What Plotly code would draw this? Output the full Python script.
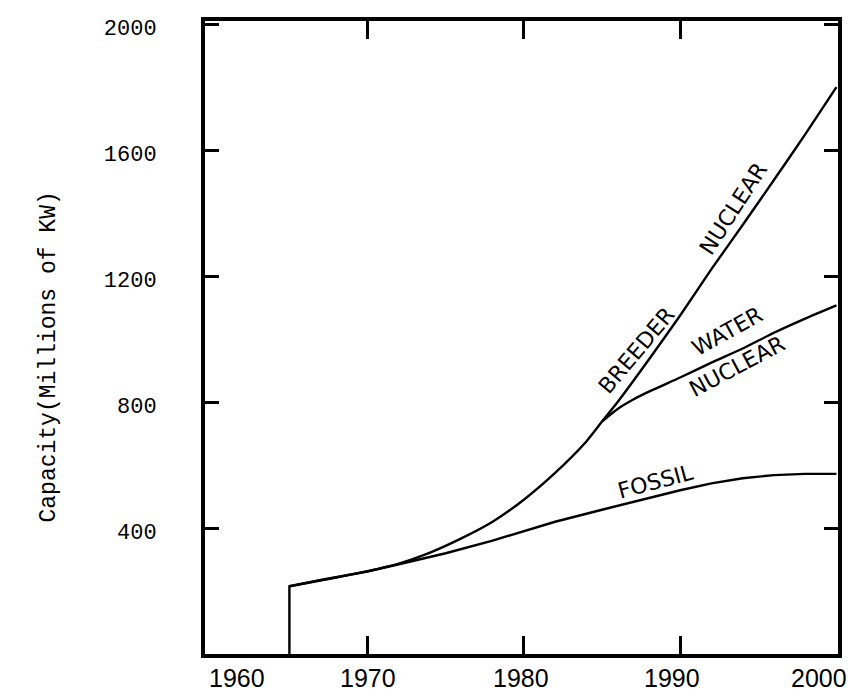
import plotly.graph_objects as go

# ---- data ----
fossil_years = [1965, 1965, 1967, 1970, 1972, 1975, 1978, 1980, 1982, 1985, 1988, 1990, 1992, 1994, 1996, 1998, 2000]
fossil_cap = [0, 215, 235, 262, 285, 320, 360, 390, 420, 458, 495, 520, 542, 558, 568, 572, 572]

total_years = [1965, 1968, 1970, 1972, 1974, 1976, 1978, 1980, 1982, 1984, 1985]
total_cap = [215, 243, 263, 287, 322, 367, 420, 490, 575, 675, 738]

breeder_years = [1985, 1986, 1988, 1990, 1992, 1994, 1996, 1998, 2000]
breeder_cap = [738, 800, 935, 1075, 1222, 1362, 1505, 1650, 1800]

water_years = [1985, 1986, 1987, 1988, 1990, 1992, 1994, 1996, 1998, 2000]
water_cap = [738, 778, 808, 833, 878, 925, 970, 1020, 1065, 1107]

x_tick_years = [1960, 1970, 1980, 1990, 2000]
x_tick_labels = ["1960", "1970", "1980", "1990", "2000"]
x_tick_marks = [1970, 1980, 1990]
y_tick_vals = [400, 800, 1200, 1600, 2000]
y_tick_labels = ["400", "800", "1200", "1600", "2000"]
y_title = "Capacity(Millions of KW)"

# ---- figure ----
line_style = dict(color="black", width=2.4)
fig = go.Figure()
fig.add_trace(go.Scatter(x=fossil_years, y=fossil_cap, mode="lines", line=line_style, name="Fossil"))
fig.add_trace(go.Scatter(x=total_years, y=total_cap, mode="lines", line=dict(line_style, shape="spline", smoothing=0.6), name="Total"))
fig.add_trace(go.Scatter(x=breeder_years, y=breeder_cap, mode="lines", line=dict(line_style, shape="spline", smoothing=0.6), name="Breeder Nuclear"))
fig.add_trace(go.Scatter(x=water_years, y=water_cap, mode="lines", line=dict(line_style, shape="spline", smoothing=0.6), name="Water Nuclear"))

label_font = dict(family="DejaVu Sans", size=22, color="black")
curve_labels = [
    ("BREEDER", 1987.2, 965, -50),
    ("NUCLEAR", 1993.4, 1415, -57),
    ("WATER", 1993.0, 1025, -29),
    ("NUCLEAR", 1993.64, 912, -28),
    ("FOSSIL", 1988.45, 548, -15),
]
annotations = []
for text, ax_, ay_, ang in curve_labels:
    annotations.append(dict(x=ax_, y=ay_, xref="x", yref="y", text=text, showarrow=False,
                            textangle=ang, font=label_font))

x_label_shift = [26, 0, -3, -8, -17]
for yr, lab, sh in zip(x_tick_years, x_tick_labels, x_label_shift):
    annotations.append(dict(x=yr, y=0, xref="x", yref="paper", text=lab, showarrow=False,
                            xanchor="center", yanchor="top", xshift=sh, yshift=-8,
                            font=dict(family="Liberation Sans", size=25, color="black")))

annotations.append(dict(x=0, y=0.5, xref="paper", yref="paper", text=y_title, showarrow=False,
                        textangle=-90, xanchor="center", yanchor="middle", xshift=-157, yshift=-20,
                        font=dict(family="Liberation Mono", size=23, color="black")))

fig.update_layout(
    width=849, height=688,
    margin=dict(l=197, r=19, t=9, b=42),
    paper_bgcolor="white", plot_bgcolor="white",
    showlegend=False,
    annotations=annotations,
    xaxis=dict(range=[1959.6, 2000.1], showgrid=False, zeroline=False,
               showline=True, linewidth=4, linecolor="black", mirror="ticks",
               ticks="inside", tickvals=x_tick_marks, ticklen=18, tickwidth=3, tickcolor="black",
               showticklabels=False),
    yaxis=dict(range=[0, 2010], showgrid=False, zeroline=False,
               showline=True, linewidth=4, linecolor="black", mirror="ticks",
               ticks="inside", tickvals=y_tick_vals, ticktext=y_tick_labels,
               ticklen=14, tickwidth=3, tickcolor="black",
               ticklabelstandoff=40, ticklabelshift=3,
               tickfont=dict(family="Liberation Mono", size=22, color="black")),
)

fig.write_html("out.html")
